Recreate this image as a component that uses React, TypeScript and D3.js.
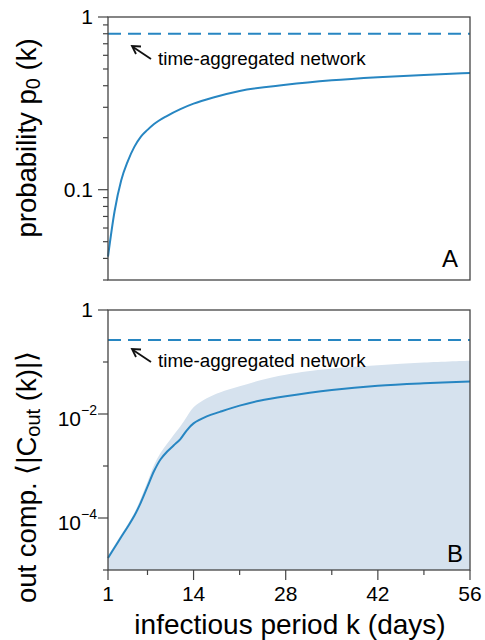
import React from "react";
import * as d3 from "d3";

// panel A: probability p0(k)
const kA = [1, 2, 3, 4, 5, 6, 7, 8, 10, 12, 14, 17, 21, 28, 35, 42, 49, 56];
const p0 = [0.041, 0.075, 0.113, 0.146, 0.177, 0.203, 0.222, 0.24, 0.268, 0.293, 0.315, 0.342, 0.373, 0.405, 0.43, 0.448, 0.462, 0.474];
const p0Aggregated = 0.8;

// panel B: out component size
const kB = [1, 2, 3, 4, 5, 6, 7, 8, 9, 10, 11, 12, 13, 14, 16, 18, 21, 24, 28, 35, 42, 49, 56];
const cOutMean = [1.7e-5, 2.7e-5, 4.3e-5, 6.8e-5, 1.1e-4, 2.0e-4, 4.0e-4, 8.0e-4, 1.35e-3, 1.9e-3, 2.5e-3, 3.3e-3, 4.9e-3, 6.6e-3, 9.0e-3, 1.1e-2, 1.45e-2, 1.8e-2, 2.2e-2, 2.9e-2, 3.5e-2, 3.9e-2, 4.2e-2];
const cOutUpper = [1.9e-5, 3.0e-5, 4.8e-5, 7.6e-5, 1.25e-4, 2.4e-4, 5.0e-4, 1.05e-3, 1.8e-3, 2.7e-3, 4.0e-3, 5.8e-3, 9.0e-3, 1.35e-2, 2.0e-2, 2.6e-2, 3.4e-2, 4.4e-2, 5.7e-2, 7.5e-2, 8.7e-2, 9.8e-2, 0.106];
const cOutAggregated = 0.265;

const xTicks = [1, 14, 28, 42, 56];
const xMinorTicks = [7, 21, 35, 49];
const yTicksA = [0.1, 1];
const yMinorA = [0.03, 0.04, 0.05, 0.06, 0.07, 0.08, 0.09, 0.2, 0.3, 0.4, 0.5, 0.6, 0.7, 0.8, 0.9];
const yTicksB = [1e-4, 1e-2, 1];
const yMinorB = [1e-5, 1e-3, 1e-1];

const BLUE = "#2786c2";
const BAND = "#d6e2ee";
const FRAME = "#444";
const FONT = "Liberation Sans, Arial, Helvetica, sans-serif";

const left = 108;
const right = 470;
const topA = 17, bottomA = 280;
const topB = 310, bottomB = 570;

export default function App() {
  const x = d3.scaleLinear().domain([1, 56]).range([left, right]);
  const yA = d3.scaleLog().domain([0.03, 1]).range([bottomA, topA]);
  const yB = d3.scaleLog().domain([1e-5, 1]).range([bottomB, topB]);

  const lineA = d3
    .line<number>()
    .x((d, i) => x(kA[i]))
    .y((d) => yA(d))
    .curve(d3.curveMonotoneX)(p0);

  const lineB = d3
    .line<number>()
    .x((d, i) => x(kB[i]))
    .y((d) => yB(d))
    .curve(d3.curveCatmullRom.alpha(0.5))(cOutMean);

  const band = d3
    .area<number>()
    .x((d, i) => x(kB[i]))
    .y0(bottomB)
    .y1((d) => yB(d))
    .curve(d3.curveCatmullRom.alpha(0.5))(cOutUpper);

  const arrow = (tipX: number, tipY: number) => (
    <g stroke="#111" strokeWidth={1.8} fill="none">
      <line x1={tipX + 19} y1={tipY + 13} x2={tipX + 1} y2={tipY + 1} />
      <path d={`M${tipX + 9},${tipY + 0.5} L${tipX},${tipY} L${tipX + 4},${tipY + 8}`} />
    </g>
  );

  return (
    <svg width={485} height={640} style={{ position: "absolute", left: 0, top: 0 }} fontFamily={FONT}>
      <rect width={485} height={640} fill="white" />

      {/* panel A */}
      <line x1={left} x2={right} y1={yA(p0Aggregated)} y2={yA(p0Aggregated)} stroke={BLUE} strokeWidth={2} strokeDasharray="13,7" />
      <path d={lineA ?? ""} fill="none" stroke={BLUE} strokeWidth={2} />
      {arrow(132, 46)}
      <text x={158} y={65} fontSize={18.8}>time-aggregated network</text>
      <rect x={left} y={topA} width={right - left} height={bottomA - topA} fill="none" stroke={FRAME} strokeWidth={1.3} />
      {yMinorA.map((v) => (
        <line key={v} x1={left - 5} x2={left} y1={yA(v)} y2={yA(v)} stroke={FRAME} strokeWidth={1.2} />
      ))}
      {yTicksA.map((v) => (
        <g key={v}>
          <line x1={left - 10} x2={left} y1={yA(v)} y2={yA(v)} stroke={FRAME} strokeWidth={1.2} />
          <text x={left - 15} y={yA(v) + 7} fontSize={21} textAnchor="end">{v === 1 ? "1" : "0.1"}</text>
        </g>
      ))}
      <text x={458} y={267} fontSize={24} textAnchor="end">A</text>
      <text transform="translate(36,138) rotate(-90)" fontSize={27.5} textAnchor="middle">
        probability p<tspan fontSize={20} dy={4}>0</tspan><tspan dy={-4}> (k)</tspan>
      </text>

      {/* panel B */}
      <path d={band ?? ""} fill={BAND} />
      <line x1={left} x2={right} y1={yB(cOutAggregated)} y2={yB(cOutAggregated)} stroke={BLUE} strokeWidth={2} strokeDasharray="13,7" />
      <path d={lineB ?? ""} fill="none" stroke={BLUE} strokeWidth={2} />
      {arrow(132, 349)}
      <text x={158} y={367} fontSize={18.8}>time-aggregated network</text>
      <rect x={left} y={topB} width={right - left} height={bottomB - topB} fill="none" stroke={FRAME} strokeWidth={1.3} />
      {yMinorB.map((v) => (
        <line key={v} x1={left - 5} x2={left} y1={yB(v)} y2={yB(v)} stroke={FRAME} strokeWidth={1.2} />
      ))}
      {yTicksB.map((v) => {
        const exp = Math.round(Math.log10(v));
        return (
          <g key={v}>
            <line x1={left - 10} x2={left} y1={yB(v)} y2={yB(v)} stroke={FRAME} strokeWidth={1.2} />
            {exp === 0 ? (
              <text x={left - 15} y={yB(v) + 7} fontSize={21} textAnchor="end">1</text>
            ) : (
              <text x={left - 11} y={yB(v) + 12} fontSize={21} textAnchor="end">
                10<tspan fontSize={14} dy={-11}>{"\u2212" + Math.abs(exp)}</tspan>
              </text>
            )}
          </g>
        );
      })}
      {xMinorTicks.map((v) => (
        <line key={v} x1={x(v)} x2={x(v)} y1={bottomB} y2={bottomB + 5} stroke={FRAME} strokeWidth={1.2} />
      ))}
      {xTicks.map((v) => (
        <g key={v}>
          <line x1={x(v)} x2={x(v)} y1={bottomB} y2={bottomB + 10} stroke={FRAME} strokeWidth={1.2} />
          <text x={x(v)} y={bottomB + 31} fontSize={21} textAnchor="middle">{v}</text>
        </g>
      ))}
      <text x={463} y={562} fontSize={24} textAnchor="end">B</text>
      <text x={290} y={634} fontSize={28} textAnchor="middle">infectious period k (days)</text>
      <text transform="translate(36,477) rotate(-90)" fontSize={27.5} textAnchor="middle">
        out comp. {"\u27E8"}|C<tspan fontSize={20} dy={4}>out</tspan><tspan dy={-4}> (k)|{"\u27E9"}</tspan>
      </text>
    </svg>
  );
}
